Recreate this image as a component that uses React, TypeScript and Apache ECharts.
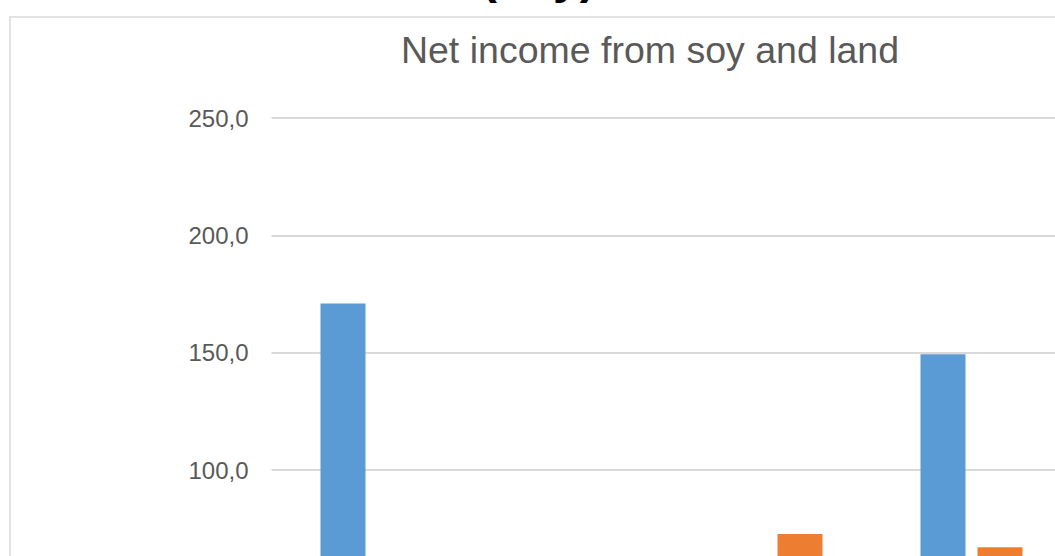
import React, { useEffect, useRef } from "react";
import * as echarts from "echarts";

const categories = ["2013", "2014", "2015", "2016"];
const soyIncome = [171.0, 45.0, 52.0, 149.4];
const landIncome = [38.0, 41.0, 72.8, 67.2];
const yTicks = [0, 50, 100, 150, 200, 250];

export default function App() {
  const ref = useRef<HTMLDivElement>(null);
  useEffect(() => {
    if (!ref.current) return;
    const chart = echarts.init(ref.current, undefined, { renderer: "svg" });
    chart.setOption({
      animation: false,
      backgroundColor: "#ffffff",
      textStyle: { fontFamily: "Liberation Sans, Arial, sans-serif" },
      title: {
        text: "Net income from soy and land",
        left: 645,
        textAlign: "center",
        top: 26,
        textStyle: {
          color: "#595959",
          fontSize: 37.5,
          fontWeight: "normal",
          fontFamily: "Liberation Sans, Arial, sans-serif",
        },
      },
      graphic: [
        {
          type: "rect",
          shape: { x: 10, y: 17, width: 1200, height: 900 },
          style: { fill: "none", stroke: "#d9d9d9", lineWidth: 1.5 },
          z: -1,
        },
        {
          type: "text",
          x: 481,
          y: 0,
          style: {
            text: "(soy)",
            fontSize: 48,
            fontWeight: "bold",
            fontFamily: "Liberation Sans, Arial, sans-serif",
            fill: "#000000",
            verticalAlign: "bottom",
            align: "left",
          },
        },
      ],
      grid: { left: 271.5, top: 118, width: 800, height: 587 },
      xAxis: {
        type: "category",
        data: categories,
        axisLine: { show: true, lineStyle: { color: "#d9d9d9", width: 2 } },
        axisTick: { show: false },
        axisLabel: { color: "#595959", fontSize: 24 },
      },
      yAxis: {
        type: "value",
        min: yTicks[0],
        max: yTicks[yTicks.length - 1],
        interval: 50,
        axisLine: { show: false },
        axisTick: { show: false },
        splitLine: { lineStyle: { color: "#d9d9d9", width: 2 } },
        axisLabel: {
          color: "#595959",
          fontSize: 24,
          margin: 23,
          formatter: (v: number) => v.toFixed(1).replace(".", ","),
        },
      },
      series: [
        {
          name: "Soy",
          type: "bar",
          data: soyIncome,
          barWidth: 45,
          barGap: "26.7%",
          itemStyle: { color: "#5b9bd5" },
        },
        {
          name: "Land",
          type: "bar",
          data: landIncome,
          barWidth: 45,
          itemStyle: { color: "#ed7d31" },
        },
      ],
    });
    return () => chart.dispose();
  }, []);
  return (
    <div
      style={{
        position: "fixed",
        left: 0,
        top: 0,
        width: 1055,
        height: 556,
        overflow: "hidden",
        background: "#fff",
      }}
    >
      <div ref={ref} style={{ width: 1100, height: 800 }} />
    </div>
  );
}
